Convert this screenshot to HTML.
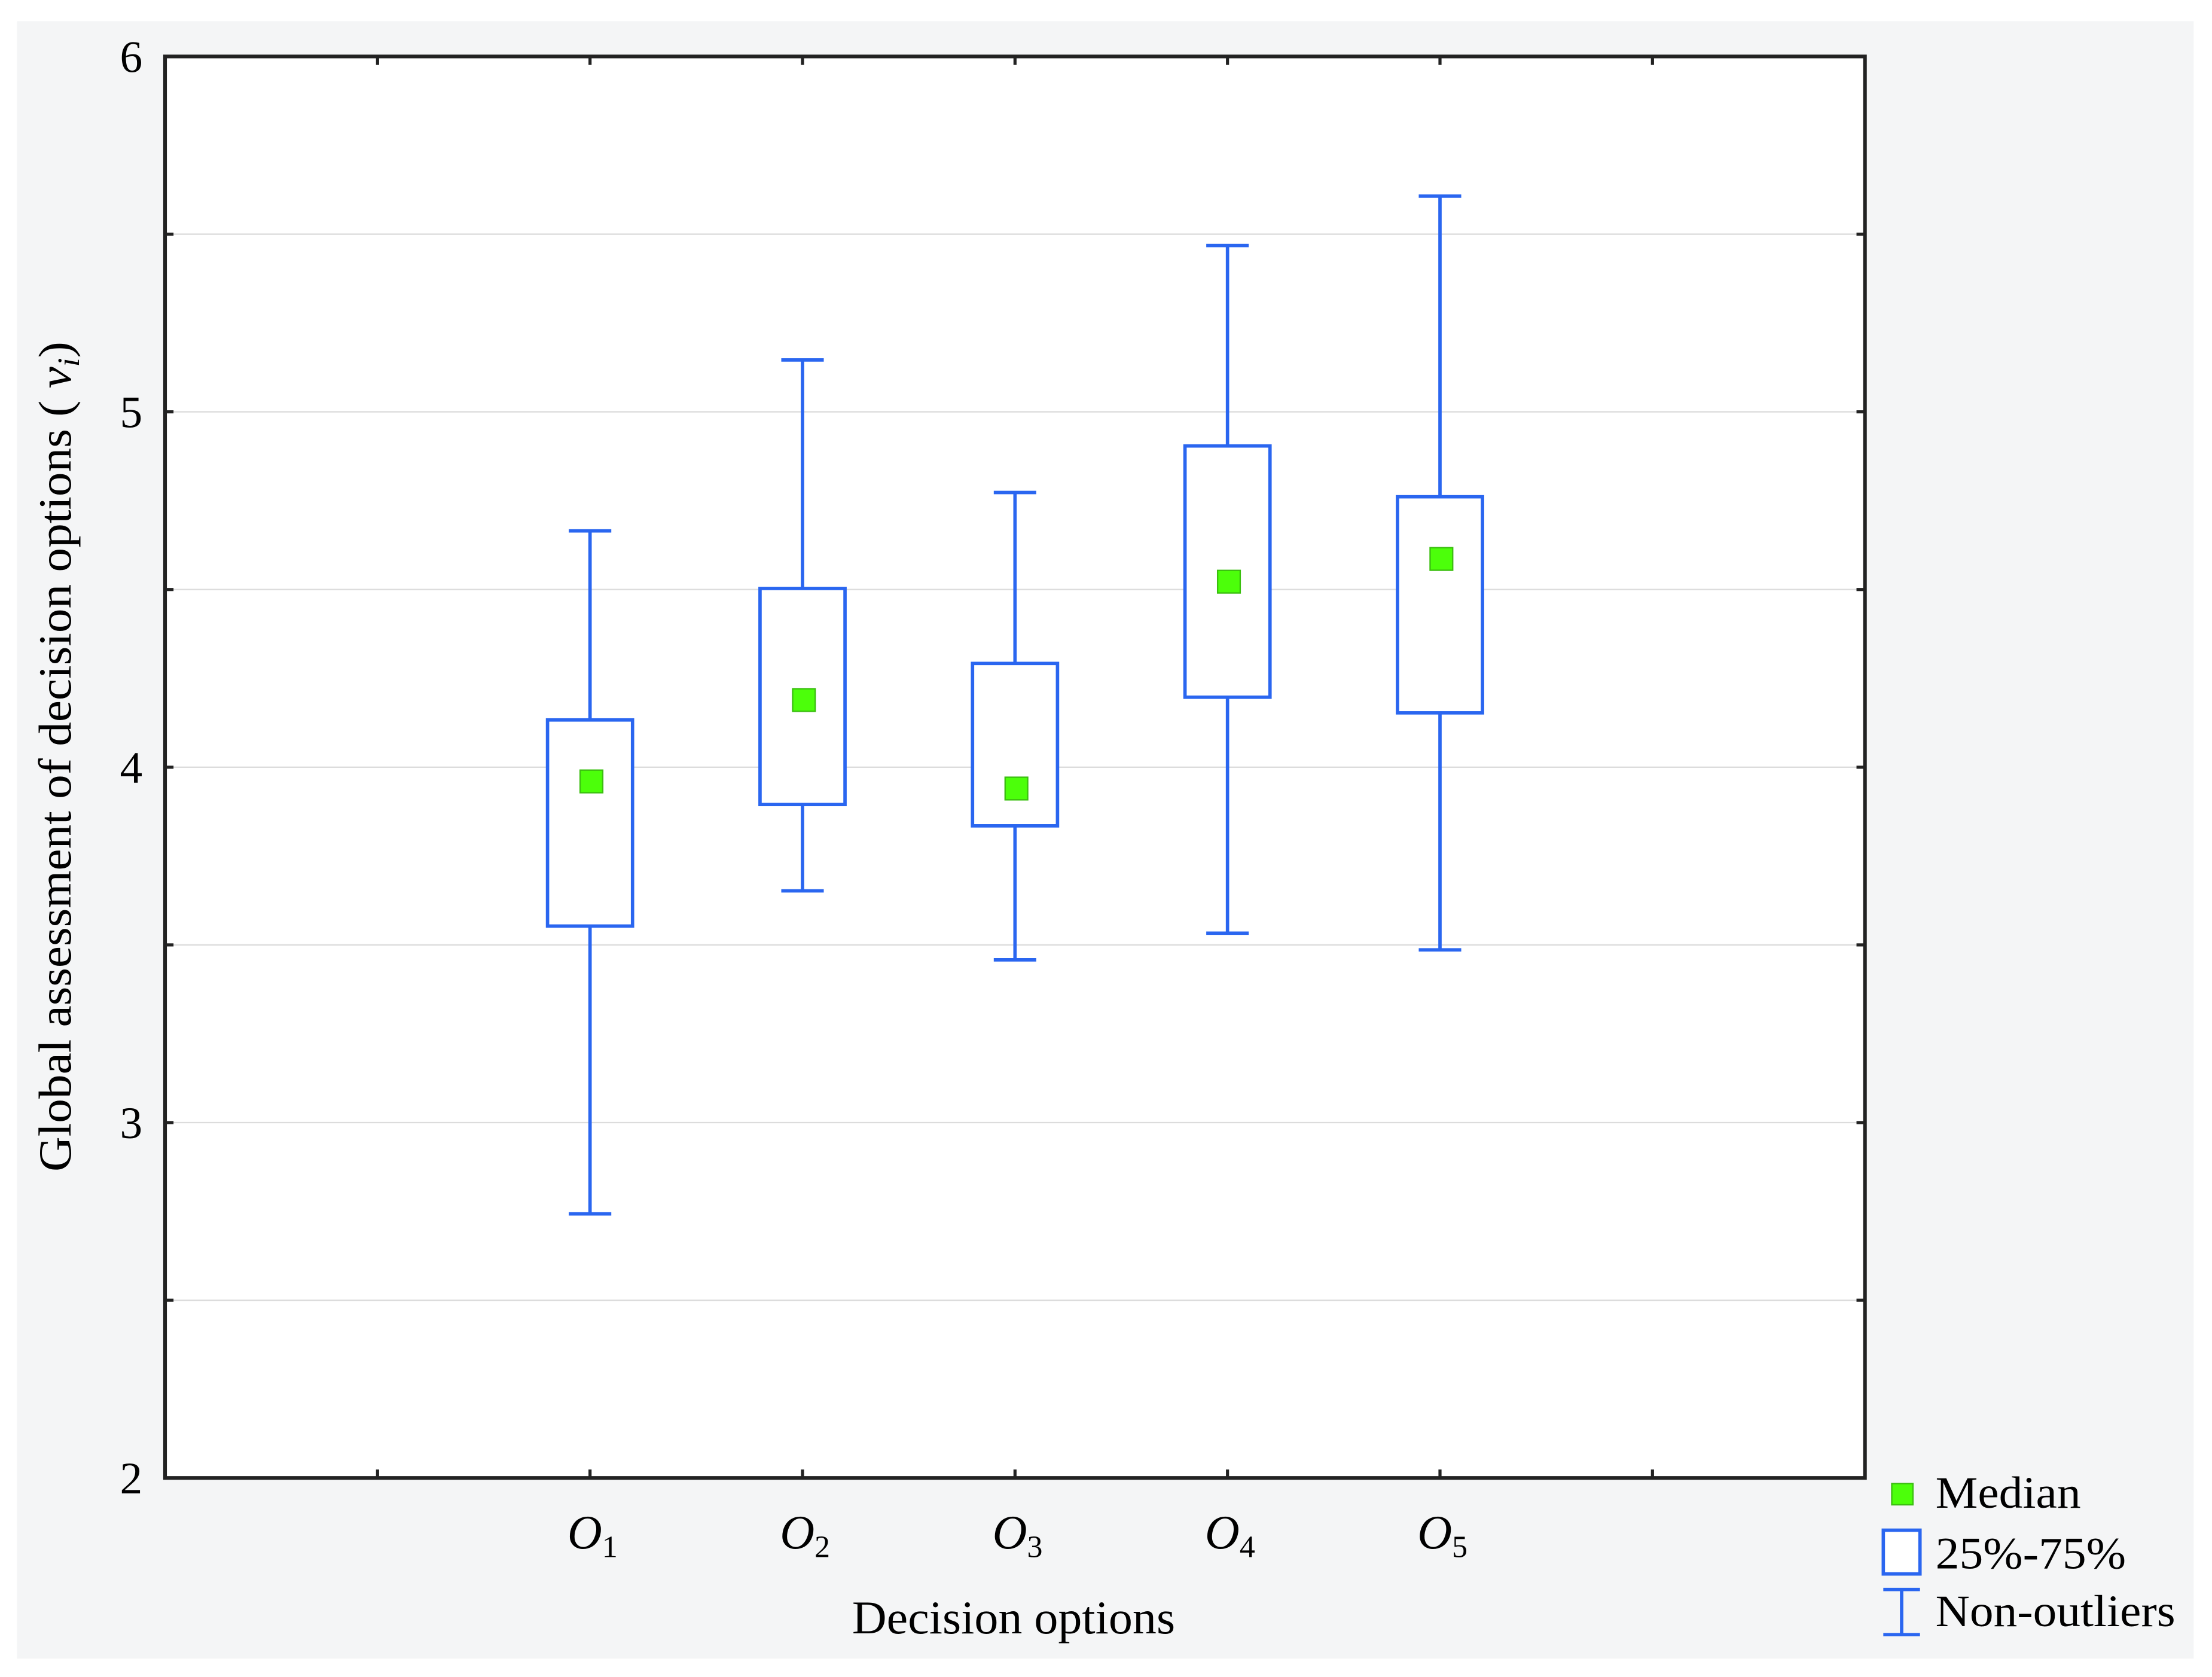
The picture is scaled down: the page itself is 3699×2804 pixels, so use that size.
<!DOCTYPE html>
<html><head><meta charset="utf-8"><style>
html,body{margin:0;padding:0;background:#fff;}
svg{display:block;}
text{font-family:"Liberation Serif",serif;fill:#000;}
</style></head><body>
<svg id="chart" width="3699" height="2804" viewBox="0 0 1568 1188" preserveAspectRatio="none" xmlns="http://www.w3.org/2000/svg">
<rect x="12" y="15" width="1543" height="1160" fill="#f4f5f6"/>
<rect x="117" y="40" width="1205" height="1007" fill="#fff"/>
<g id="grid"></g>
<g id="boxes"></g>
<rect x="117" y="40" width="1205" height="1007" fill="none" stroke="#222" stroke-width="2.6"/>
<g id="ticks"></g>
<text x="604" y="1157" font-size="33" textLength="229" lengthAdjust="spacingAndGlyphs">Decision options</text>
<text transform="translate(50,830) rotate(-90)" font-size="33" textLength="588" lengthAdjust="spacingAndGlyphs">Global assessment of decision options ( <tspan font-style="italic">v</tspan><tspan font-style="italic" font-size="22" dy="6">i</tspan><tspan dy="-6">)</tspan></text>
<g>
<rect x="1341" y="1051" width="15" height="15" fill="#4cff0a" stroke="#3bbf10" stroke-width="1"/>
<text x="1372" y="1068" font-size="32" textLength="103" lengthAdjust="spacingAndGlyphs">Median</text>
<rect x="1335" y="1084" width="26" height="31" fill="#fff" stroke="#2a66f0" stroke-width="2.4"/>
<text x="1372" y="1111" font-size="32" textLength="135" lengthAdjust="spacingAndGlyphs">25%-75%</text>
<g stroke="#2a66f0" stroke-width="2.4">
<line x1="1335" y1="1126" x2="1361" y2="1126"/><line x1="1348" y1="1126" x2="1348" y2="1158"/><line x1="1335" y1="1158" x2="1361" y2="1158"/></g>
<text x="1372" y="1152" font-size="32" textLength="170" lengthAdjust="spacingAndGlyphs">Non-outliers</text>
</g>
</svg>
<script>
const categories = ["1","2","3","4","5"];
const whiskerHigh = [4.665, 5.146, 4.773, 5.468, 5.607];
const q3Values = [4.133, 4.503, 4.292, 4.904, 4.761];
const medians = [3.96, 4.189, 3.94, 4.522, 4.586];
const q1Values = [3.553, 3.895, 3.835, 4.197, 4.153];
const whiskerLow = [2.743, 3.652, 3.458, 3.533, 3.486];
const yTicks = [2, 3, 4, 5, 6];
const yGrid = [2.5, 3, 3.5, 4, 4.5, 5, 5.5];

const NS = "http://www.w3.org/2000/svg";
const L=117, R=1322, T=40, B=1047, yMin=2, yMax=6;
const slot=(R-L)/(categories.length+3);
function y(v){return B-(v-yMin)/(yMax-yMin)*(B-T);}
function x(i){return L+slot*(i+2);}
function mk(tag, attrs, parent){const e=document.createElementNS(NS,tag);for(const k in attrs)e.setAttribute(k,attrs[k]);parent.appendChild(e);return e;}
const grid=document.getElementById('grid'), ticks=document.getElementById('ticks'), boxes=document.getElementById('boxes');
yGrid.forEach(v=>{
  const g=mk('line',{x1:L,x2:R,y1:y(v),y2:y(v),stroke:'#dcdcdc','stroke-width':1},grid);
  
  
  [[L,L+6],[R-6,R]].forEach(p=>{const t=mk('line',{x1:p[0],x2:p[1],y1:y(v),y2:y(v),stroke:'#222','stroke-width':2.2},ticks);
    
    });
});
yTicks.forEach(v=>{
  const t=mk('text',{x:101,y:y(v)+11,'font-size':32,'text-anchor':'end'},ticks);
  t.textContent=v;
  
  
});
for(let i=-1;i<=categories.length;i++){
  const xx=x(i);
  [[B-6,B],[T,T+6]].forEach(p=>{const t=mk('line',{x1:xx,x2:xx,y1:p[0],y2:p[1],stroke:'#222','stroke-width':2.2},ticks);
    
    });
}
const blue='#2a66f0', bw=slot*0.4, cw=slot*0.2, ms=16, sw=2.4;
categories.forEach((c,i)=>{
  const cx=x(i);
  const g=mk('g',{},boxes);
  
  
  mk('line',{x1:cx,x2:cx,y1:y(whiskerHigh[i]),y2:y(q3Values[i]),stroke:blue,'stroke-width':sw},g);
  mk('line',{x1:cx,x2:cx,y1:y(q1Values[i]),y2:y(whiskerLow[i]),stroke:blue,'stroke-width':sw},g);
  mk('line',{x1:cx-cw/2,x2:cx+cw/2,y1:y(whiskerHigh[i]),y2:y(whiskerHigh[i]),stroke:blue,'stroke-width':sw},g);
  mk('line',{x1:cx-cw/2,x2:cx+cw/2,y1:y(whiskerLow[i]),y2:y(whiskerLow[i]),stroke:blue,'stroke-width':sw},g);
  mk('rect',{x:cx-bw/2,y:y(q3Values[i]),width:bw,height:y(q1Values[i])-y(q3Values[i]),fill:'#fff',stroke:blue,'stroke-width':sw},g);
  const m=mk('rect',{x:cx-ms/2+1,y:y(medians[i])-ms/2,width:ms,height:ms,fill:'#4cff0a',stroke:'#3bbf10','stroke-width':1},g);
  
  
  const t=mk('text',{x:cx-16,y:1097,'font-size':34,'font-style':'italic'},ticks);
  
  
  t.textContent='O';
  const s=mk('tspan',{'font-size':22,'font-style':'normal',dy:6},t);
  s.textContent=c;
});
</script>
</body></html>
